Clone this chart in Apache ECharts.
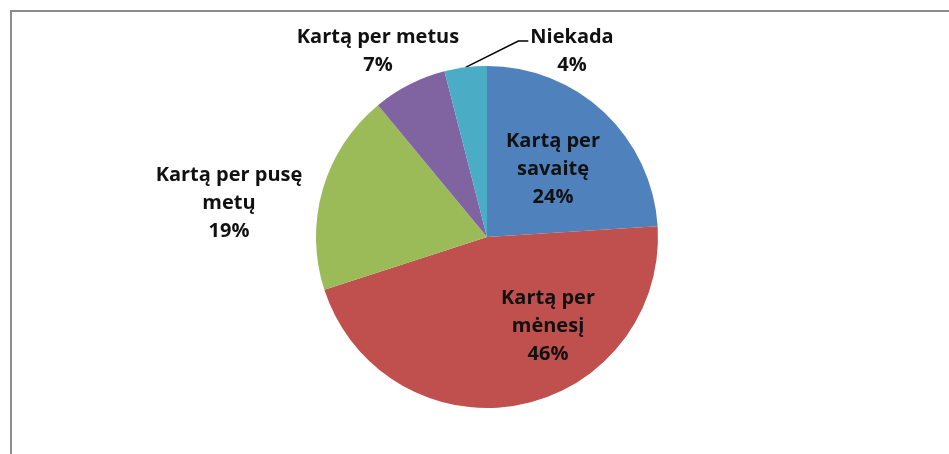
<!DOCTYPE html>
<html>
<head>
<meta charset="utf-8">
<script src="https://cdn.jsdelivr.net/npm/echarts@6/dist/echarts.min.js"></script>
<style>
html, body { margin: 0; padding: 0; background: #fff; }
#chart { width: 949px; height: 454px; }
</style>
</head>
<body>
<div id="chart"></div>
<script>
// kategorijos ir reikšmės (%)
var categories = ['Kartą per savaitę', 'Kartą per mėnesį', 'Kartą per pusę metų', 'Kartą per metus', 'Niekada'];
var labelNames = ['Kartą per\nsavaitę', 'Kartą per\nmėnesį', 'Kartą per pusę\nmetų', 'Kartą per metus', 'Niekada'];
var values = [24, 46, 19, 7, 4];
var colors = ['#4F81BD', '#C0504D', '#9BBB59', '#8064A2', '#4BACC6'];

var dataArr = [];
for (var i = 0; i < categories.length; i++) {
	dataArr.push({name: categories[i], value: values[i]});
}

// label vietos (teksto bloko centras)
var inside = [true, true, false, false, false];
var labelPos = [[553, 169], [548, 326], [229, 203], [378, 51], [572, 51]];
var lineH = 28;

var option = {
	animation: false,
	color: colors,
	graphic: [{
		type: 'rect',
		shape: {x: 11, y: 11, width: 1000, height: 600},
		style: {fill: 'none', stroke: '#8c8c8c', lineWidth: 2}
	}],
	series: [{
		type: 'pie',
		center: [487, 237],
		radius: 171,
		startAngle: 90,
		clockwise: true,
		data: dataArr.map(function (d, i) {
			return {
				name: d.name,
				value: d.value,
				label: {position: inside[i] ? 'inside' : 'outside'},
				labelLine: {show: i == 4, length: 14, length2: 8, lineStyle: {color: '#000', width: 1.5}}
			};
		}),
		label: {
			color: '#111',
			fontFamily: 'Open Sans',
			fontWeight: 'bold',
			fontSize: 20,
			lineHeight: lineH,
			align: 'center',
			formatter: function (p) {
				return labelNames[p.dataIndex] + '\n' + p.value + '%';
			}
		},
		itemStyle: {borderWidth: 0},
		labelLayout: function (params) {
			var t = labelPos[params.dataIndex];
			var res = {x: t[0], y: t[1], align: 'center', verticalAlign: 'middle'};
			if (params.labelLinePoints) {
				// linija nuo sektoriaus krašto iki teksto
				var start = params.labelLinePoints[0];
				var w = params.labelRect.width;
				var h = params.labelRect.height;
				var end = [t[0] - w / 2 - 2, t[1] - h / 2 + lineH / 2 + 4];
				res.labelLinePoints = [start, [end[0] - 10, end[1]], end];
			}
			return res;
		}
	}]
};

var myChart = echarts.init(document.getElementById('chart'));
myChart.setOption(option);
</script>
</body>
</html>
